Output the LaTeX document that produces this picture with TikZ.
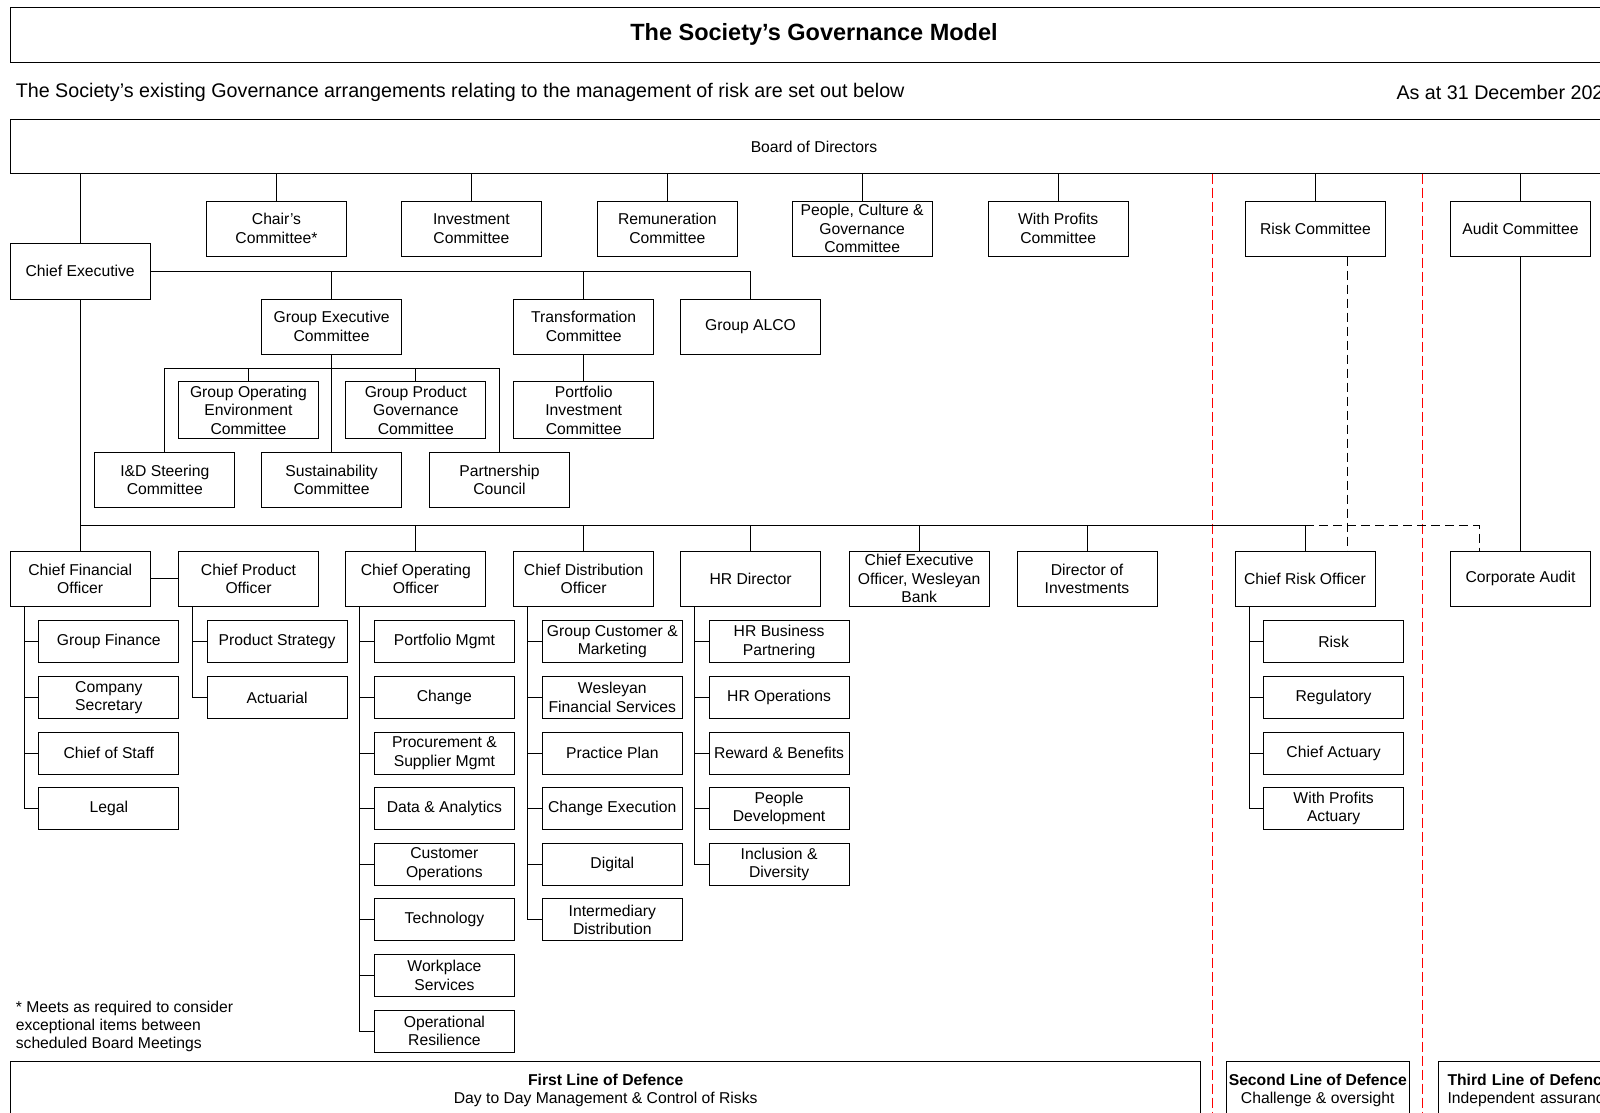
\documentclass[tikz,border=0pt]{standalone}
\usepackage{fontspec}
\setmainfont{Liberation Sans}
\usepackage{tikz}
\usetikzlibrary{positioning}

\newcommand{\govfont}{\fontsize{15.7}{18.4}\selectfont}

\begin{document}
\begin{tikzpicture}[x=1pt, y=-1pt, line width=1pt,
    gov box/.style={draw, rectangle, minimum width=140pt, minimum height=55pt, inner sep=1pt, align=center, font=\govfont},
    sub box/.style={gov box, minimum height=42pt},
    wide box/.style={draw, rectangle, minimum width=1608pt, inner sep=0pt},
    red sep/.style={red, line width=1pt, dash pattern=on 10pt off 4pt},
    dashed link/.style={dash pattern=on 9pt off 5pt}]
    \useasboundingbox (0,0) rectangle (1600,1113);
    \clip (0,0) rectangle (1600,1113);

    \node[wide box, minimum height=55pt, font=\fontsize{23.5}{28}\selectfont\bfseries] (title) at (814,34.6) {The Society's Governance Model};
    \node[anchor=west, inner sep=0pt, font=\fontsize{19.7}{23}\selectfont] (intro) at (15.3,92.5) {The Society's existing Governance arrangements relating to the management of risk are set out below};
    \node[anchor=west, inner sep=0pt, font=\fontsize{19.7}{23}\selectfont] (date) at (1396,92.5) {As at 31 December 202};
    \node[wide box, minimum height=54pt, font=\govfont] (board) at (814,146.5) {Board of Directors};

    % board committees
    \node[gov box] (chair) at (276.5,228.5) {Chair's\\Committee*};
    \node[gov box] (invest) at (471.4,228.5) {Investment\\Committee};
    \node[gov box] (remun) at (667.3,228.5) {Remuneration\\Committee};
    \node[gov box] (pcg) at (862.2,228.5) {People, Culture \&\\Governance\\Committee};
    \node[gov box] (wp) at (1058.2,228.5) {With Profits\\Committee};
    \node[gov box] (riskc) at (1315.5,228.5) {Risk Committee};
    \node[gov box] (auditc) at (1520.5,228.5) {Audit Committee};

    \node[gov box, minimum height=56pt] (ce) at (80.2,271) {Chief Executive};
    \node[gov box] (gec) at (331.6,326.5) {Group Executive\\Committee};
    \node[gov box] (trans) at (583.7,326.5) {Transformation\\Committee};
    \node[gov box] (alco) at (750.5,326.5) {Group ALCO};
    \node[gov box, minimum height=57pt] (goe) at (248.5,410) {Group Operating\\Environment\\Committee};
    \node[gov box, minimum height=57pt] (gpg) at (415.8,410) {Group Product\\Governance\\Committee};
    \node[gov box, minimum height=57pt] (pic) at (583.7,410) {Portfolio\\Investment\\Committee};
    \node[gov box] (ids) at (164.8,479.7) {I\&D Steering\\Committee};
    \node[gov box] (sust) at (331.6,479.7) {Sustainability\\Committee};
    \node[gov box] (partner) at (499.5,479.7) {Partnership\\Council};

    % executives
    \node[gov box] (cfo) at (80.2,578.6) {Chief Financial\\Officer};
    \node[gov box] (cpo) at (248.5,578.6) {Chief Product\\Officer};
    \node[gov box] (coo) at (415.8,578.6) {Chief Operating\\Officer};
    \node[gov box] (cdo) at (583.7,578.6) {Chief Distribution\\Officer};
    \node[gov box] (hr) at (750.5,578.6) {HR Director};
    \node[gov box] (ceowb) at (919.2,578.6) {Chief Executive\\Officer, Wesleyan\\Bank};
    \node[gov box] (doi) at (1087,578.6) {Director of\\Investments};
    \node[gov box] (cro) at (1305,578.6) {Chief Risk Officer};
    \node[gov box] (corp) at (1520.5,578.6) {Corporate Audit};

    \foreach \t [count=\i] in {Group Finance, Company\\Secretary, Chief of Staff, Legal}
        \node[sub box] (cfo\i) at (108.8,{641.8+55.6*(\i-1)}) {\t};
    \foreach \t [count=\i] in {Product Strategy, Actuarial}
        \node[sub box] (cpo\i) at (277.1,{641.8+55.6*(\i-1)}) {\t};
    \foreach \t [count=\i] in {Portfolio Mgmt, Change, Procurement \&\\Supplier Mgmt, Data \& Analytics, Customer\\Operations, Technology, Workplace\\Services, Operational\\Resilience}
        \node[sub box] (coo\i) at (444.4,{641.8+55.6*(\i-1)}) {\t};
    \foreach \t [count=\i] in {Group Customer \&\\Marketing, Wesleyan\\Financial Services, Practice Plan, Change Execution, Digital, Intermediary\\Distribution}
        \node[sub box] (cdo\i) at (612.3,{641.8+55.6*(\i-1)}) {\t};
    \foreach \t [count=\i] in {HR Business\\Partnering, HR Operations, Reward \& Benefits, People\\Development, Inclusion \&\\Diversity}
        \node[sub box] (hr\i) at (779.1,{641.8+55.6*(\i-1)}) {\t};
    \foreach \t [count=\i] in {Risk, Regulatory, Chief Actuary, With Profits\\Actuary}
        \node[sub box] (cro\i) at (1333.6,{641.8+55.6*(\i-1)}) {\t};

    \node[anchor=west, inner sep=0pt, align=left, font=\govfont] (note) at (15.3,1026.5) {* Meets as required to consider\\exceptional items between\\scheduled Board Meetings};

    % lines of defence
    \node[gov box, anchor=north west, minimum width=1190pt, minimum height=58pt] (first) at (10.2,1061) {\textbf{First Line of Defence}\\Day to Day Management \& Control of Risks};
    \node[gov box, anchor=north west, minimum width=183.5pt, minimum height=58pt] (second) at (1225.5,1061) {\textbf{Second Line of Defence}\\Challenge \& oversight};
    \node[gov box, anchor=north west, minimum width=184pt, minimum height=58pt, align=left, text width=165.4pt, inner xsep=9.3pt] (third) at (1437.7,1061) {\textbf{Third Line of Defenc}\\Independent assuranc};

    \coordinate (sep2) at (1212.3,173.5);
    \coordinate (sep3) at (1422.5,173.5);
    \draw[red sep] (sep2) -- ++(0,950);
    \draw[red sep] (sep3) -- ++(0,950);

    % connectors
    \foreach \n in {ce,chair,invest,remun,pcg,wp,riskc,auditc}
        \draw (\n.north) -- (\n.north |- board.south);
    \draw (ce.east) -| (alco.north);
    \draw (gec.north) -- (gec.north |- ce.east);
    \draw (trans.north) -- (trans.north |- ce.east);
    \draw (trans.south) -- (pic.north);
    \coordinate (gbar) at (331.6,368.4);
    \draw (gec.south) -- (sust.north);
    \draw (ids.north) |- (gbar) -| (partner.north);
    \draw (goe.north) -- (goe.north |- gbar);
    \draw (gpg.north) -- (gpg.north |- gbar);

    \coordinate (busL) at (80.2,525.5);
    \coordinate (busR) at (1305,525.5);
    \draw (ce.south) -- (cfo.north);
    \draw (busL) -- (busR);
    \foreach \n in {coo,cdo,hr,ceowb,doi,cro}
        \draw (\n.north) -- (\n.north |- busL);
    \draw (cfo.east) -- (cpo.west);
    \draw[dashed link] (busR) -| ([xshift=-41.5pt]corp.north);
    \draw[dashed link] ([xshift=31.5pt]riskc.south) -- ([xshift=31.5pt]riskc.south |- cro.north);
    \draw (auditc.south) -- (corp.north);

    \foreach \p/\n in {cfo/4, cpo/2, coo/8, cdo/6, hr/5, cro/4}
        \foreach \i in {1,...,\n}
            \draw ([xshift=14.5pt]\p.south west) |- (\p\i.west);
\end{tikzpicture}
\end{document}
